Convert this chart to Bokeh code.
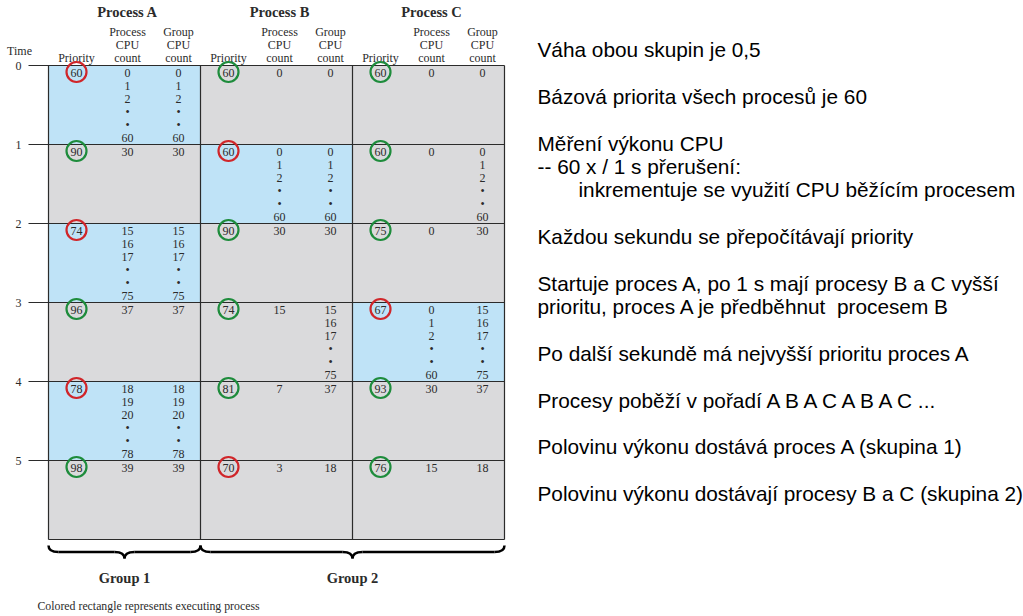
from bokeh.plotting import figure
from bokeh.models import Range1d
from bokeh.core.properties import value
from bokeh.embed import file_html
from bokeh.resources import INLINE

# ---------------- data ----------------
times = [0, 1, 2, 3, 4, 5]
processes = ["Process A", "Process B", "Process C"]
sub_headers = [["Priority"], ["Process", "CPU", "count"], ["Group", "CPU", "count"]]
groups = ["Group 1", "Group 2"]
group_members = [[0], [1, 2]]

priority_A = [60, 90, 74, 96, 78, 98]
priority_B = [60, 60, 90, 74, 81, 70]
priority_C = [60, 60, 75, 67, 93, 76]
selected = [0, 1, 0, 2, 0, 1]          # process with red circle (lowest priority value)
executing = [0, 1, 0, 2, 0, None]      # coloured rectangle

proc_cpu_A = [["0", "1", "2", "•", "•", "60"], ["30"], ["15", "16", "17", "•", "•", "75"],
              ["37"], ["18", "19", "20", "•", "•", "78"], ["39"]]
group_cpu_A = [["0", "1", "2", "•", "•", "60"], ["30"], ["15", "16", "17", "•", "•", "75"],
               ["37"], ["18", "19", "20", "•", "•", "78"], ["39"]]
proc_cpu_B = [["0"], ["0", "1", "2", "•", "•", "60"], ["30"], ["15"], ["7"], ["3"]]
group_cpu_B = [["0"], ["0", "1", "2", "•", "•", "60"], ["30"],
               ["15", "16", "17", "•", "•", "75"], ["37"], ["18"]]
proc_cpu_C = [["0"], ["0"], ["0"], ["0", "1", "2", "•", "•", "60"], ["30"], ["15"]]
group_cpu_C = [["0"], ["0", "1", "2", "•", "•", "60"], ["30"],
               ["15", "16", "17", "•", "•", "75"], ["37"], ["18"]]

priorities = [priority_A, priority_B, priority_C]
proc_cpu = [proc_cpu_A, proc_cpu_B, proc_cpu_C]
group_cpu = [group_cpu_A, group_cpu_B, group_cpu_C]

notes = [
    ("Váha obou skupin je 0,5", 0),
    ("Bázová priorita všech procesů je 60", 0),
    ("Měření výkonu CPU", 0),
    ("-- 60 x / 1 s přerušení:", 0),
    ("inkrementuje se využití CPU běžícím procesem", 1),
    ("Každou sekundu se přepočítávají priority", 0),
    ("Startuje proces A, po 1 s mají procesy B a C vyšší", 0),
    ("prioritu, proces A je předběhnut\u00a0 procesem B", 0),
    ("Po další sekundě má nejvyšší prioritu proces A", 0),
    ("Procesy poběží v pořadí A B A C A B A C ...", 0),
    ("Polovinu výkonu dostává proces A (skupina 1)", 0),
    ("Polovinu výkonu dostávají procesy B a C (skupina 2)", 0),
]
note_y = [49, 96, 143, 166, 189, 236, 283, 306, 353, 400, 446, 493]

footer = "Colored rectangle represents executing process"

# ---------------- layout ----------------
X0, COLW = 48, 152
Y0, ROWH = 65, 79
NROWS = len(times)
YB = Y0 + NROWS * ROWH
SUB_OFF = [28, 79, 130]
LINE_H = 13

BLUE = "#bfe3f7"
GRAY = "#dadadc"
RED = "#d0262a"
GREEN = "#1e8c3c"
INK = "#2b2b2b"
SERIF = value("Liberation Serif")
SANS = value("Liberation Sans")
FS = "12px"

W, H = 1023, 616
p = figure(width=W, height=H, x_range=Range1d(0, W), y_range=Range1d(H, 0),
           output_backend="svg", toolbar_location=None, min_border=0,
           x_axis_type=None, y_axis_type=None)
p.grid.visible = False
p.outline_line_color = None
p.background_fill_color = "white"
p.border_fill_color = "white"

# cell backgrounds
ql, qr, qt, qb, qc = [], [], [], [], []
for t in times:
    for k in range(len(processes)):
        ql.append(X0 + k * COLW)
        qr.append(X0 + (k + 1) * COLW)
        qt.append(Y0 + t * ROWH)
        qb.append(Y0 + (t + 1) * ROWH)
        qc.append(BLUE if executing[t] == k else GRAY)
p.quad(left=ql, right=qr, top=qt, bottom=qb, fill_color=qc, line_color=None)

# time lines
p.segment(x0=[28] * NROWS, x1=[X0 + 3 * COLW] * NROWS,
          y0=[Y0 + t * ROWH for t in times], y1=[Y0 + t * ROWH for t in times],
          line_color=INK, line_width=1.2)
# verticals + border
vx = [X0 + k * COLW for k in range(4)]
p.segment(x0=vx, x1=vx, y0=[Y0] * 4, y1=[YB] * 4, line_color=INK, line_width=1.2)
p.segment(x0=[X0], x1=[X0 + 3 * COLW], y0=[YB], y1=[YB], line_color=INK, line_width=1.2)

# time labels
p.text(x=[18] * NROWS, y=[Y0 + t * ROWH for t in times], text=[str(t) for t in times],
       text_font=SERIF, text_font_size=FS, text_align="center",
       text_baseline="middle", text_color=INK)
p.text(x=[19], y=[50], text=["Time"], text_font=SERIF, text_font_size=FS,
       text_align="center", text_baseline="middle", text_color=INK)

# headers
hx, hy, ht = [], [], []
for k, name in enumerate(processes):
    for j, sh in enumerate(sub_headers):
        for i, line in enumerate(sh):
            hx.append(X0 + k * COLW + SUB_OFF[j])
            hy.append(57 - (len(sh) - 1 - i) * LINE_H)
            ht.append(line)
p.text(x=hx, y=hy, text=ht, text_font=SERIF, text_font_size=FS,
       text_align="center", text_baseline="middle", text_color=INK)
p.text(x=[X0 + k * COLW + SUB_OFF[1] for k in range(3)], y=[11] * 3, text=processes,
       text_font=SERIF, text_font_size="14.5px", text_font_style="bold",
       text_align="center", text_baseline="middle", text_color=INK)

# cell values
vx_, vy_, vt_ = [], [], []
cx, cy, cc = [], [], []
for k in range(3):
    for t in times:
        top = Y0 + t * ROWH + 7
        vx_.append(X0 + k * COLW + SUB_OFF[0]); vy_.append(top); vt_.append(str(priorities[k][t]))
        cx.append(X0 + k * COLW + SUB_OFF[0]); cy.append(top - 0.5)
        cc.append(RED if selected[t] == k else GREEN)
        for j, col in enumerate([proc_cpu[k][t], group_cpu[k][t]]):
            for i, s in enumerate(col):
                vx_.append(X0 + k * COLW + SUB_OFF[j + 1])
                vy_.append(top + i * LINE_H)
                vt_.append(s)
p.text(x=vx_, y=vy_, text=vt_, text_font=SERIF, text_font_size=FS,
       text_align="center", text_baseline="middle", text_color=INK)
p.scatter(x=cx, y=cy, size=20, marker="circle", fill_alpha=0, line_color=cc, line_width=2.2)

# braces
for g, members in enumerate(group_members):
    left = X0 + members[0] * COLW
    right = X0 + (members[-1] + 1) * COLW
    mid = (left + right) / 2
    ytop, ybody, ycusp, r = 545, 551.5, 558, 10
    p.quadratic(x0=[left, mid - r], y0=[ytop, ybody], x1=[left + r, mid], y1=[ybody, ycusp],
                cx=[left, mid], cy=[ybody, ybody], line_color="black", line_width=2.5)
    p.quadratic(x0=[mid, right], y0=[ycusp, ytop], x1=[mid + r, right - r], y1=[ybody, ybody],
                cx=[mid, right], cy=[ybody, ybody], line_color="black", line_width=2.5)
    p.segment(x0=[left + r, mid + r], x1=[mid - r, right - r], y0=[ybody, ybody],
              y1=[ybody, ybody], line_color="black", line_width=2.5)
    p.text(x=[mid], y=[577], text=[groups[g]], text_font=SERIF, text_font_size="14.5px",
           text_font_style="bold", text_align="center", text_baseline="middle", text_color=INK)

p.text(x=[37], y=[605], text=[footer], text_font=SERIF, text_font_size="11.8px",
       text_align="left", text_baseline="middle", text_color=INK)

# notes on the right
p.text(x=[537 + 41 * ind for _, ind in notes], y=note_y, text=[s for s, _ in notes],
       text_font=SANS, text_font_size="20.8px", text_align="left", text_baseline="middle",
       text_color="black")

open("out.html", "w").write(file_html(p, INLINE))
